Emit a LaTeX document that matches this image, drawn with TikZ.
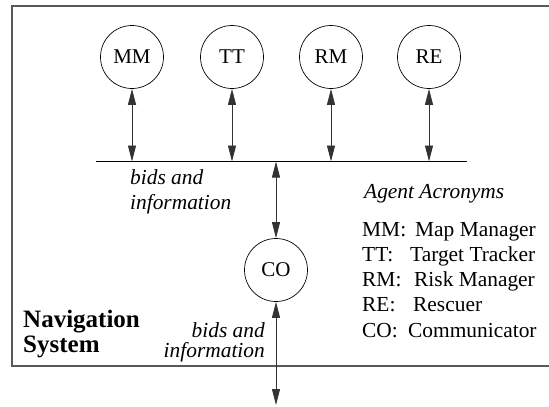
\documentclass[tikz,border=0pt]{standalone}
\usepackage{fontspec}
\setmainfont{Liberation Serif}
\usetikzlibrary{arrows.meta}
\begin{document}
\begin{tikzpicture}[x=1pt,y=-1pt,
  agent/.style={draw, circle, minimum size=63pt, inner sep=0pt, line width=0.7pt, font=\fontsize{21}{25}\selectfont},
  link/.style={{Triangle[length=16pt,width=8pt]}-{Triangle[length=16pt,width=8pt]}, line width=0.9pt, draw=black!80},
  lbl/.style={font=\fontsize{21.4}{25}\selectfont, inner sep=0pt, anchor=base west},
  ilbl/.style={font=\fontsize{21.4}{25}\selectfont\itshape, inner sep=0pt},
  navlbl/.style={font=\fontsize{25}{29}\selectfont\bfseries, inner sep=0pt, anchor=base west},
  frame/.style={line width=1.3pt, draw=black!65}]
\clip (0,0) rectangle (549,407);
\draw[frame] (12,6) rectangle (620,366);
% agents
\node[agent] (MM) at (132,57) {MM};
\node[agent] (TT) at (232,57) {TT};
\node[agent] (RM) at (331,57) {RM};
\node[agent] (RE) at (429,57) {RE};
\node[agent] (CO) at (276,270) {CO};
% bus
\coordinate (busL) at (96,161.5);
\coordinate (busR) at (467,161.5);
\draw[line width=0.8pt] (busL) -- (busR);
\coordinate (bMM) at (132,161.5);
\coordinate (bTT) at (232,161.5);
\coordinate (bRM) at (331,161.5);
\coordinate (bRE) at (429,161.5);
\coordinate (bCO) at (276,161.5);
\coordinate (out) at (276,405);
\draw[link] (MM) -- (bMM);
\draw[link] (TT) -- (bTT);
\draw[link] (RM) -- (bRM);
\draw[link] (RE) -- (bRE);
\draw[link] (bCO) -- (CO);
\draw[link] (CO) -- (out);
% labels
\node[ilbl, anchor=base west] (bid1a) at (130,184) {bids and};
\node[ilbl, anchor=base west] (bid1b) at (130,209) {information};
\node[ilbl, anchor=base east] (bid2a) at (265,337) {bids and};
\node[ilbl, anchor=base east] (bid2b) at (265,357) {information};
\node[navlbl] (nav1) at (23,327) {Navigation};
\node[navlbl] (nav2) at (23,352) {System};
% legend
\node[ilbl, anchor=base west] (leg) at (364,198) {Agent Acronyms};
\node[lbl] (aMM) at (362,236) {MM:};
\node[lbl] (nMM) at (415,236) {Map Manager};
\node[lbl] (aTT) at (362,261.3) {TT:};
\node[lbl] (nTT) at (410,261.3) {Target Tracker};
\node[lbl] (aRM) at (362,286.6) {RM:};
\node[lbl] (nRM) at (414,286.6) {Risk Manager};
\node[lbl] (aRE) at (362,311.9) {RE:};
\node[lbl] (nRE) at (413,311.9) {Rescuer};
\node[lbl] (aCO) at (362,337.2) {CO:};
\node[lbl] (nCO) at (408,337.2) {Communicator};
\end{tikzpicture}
\end{document}
